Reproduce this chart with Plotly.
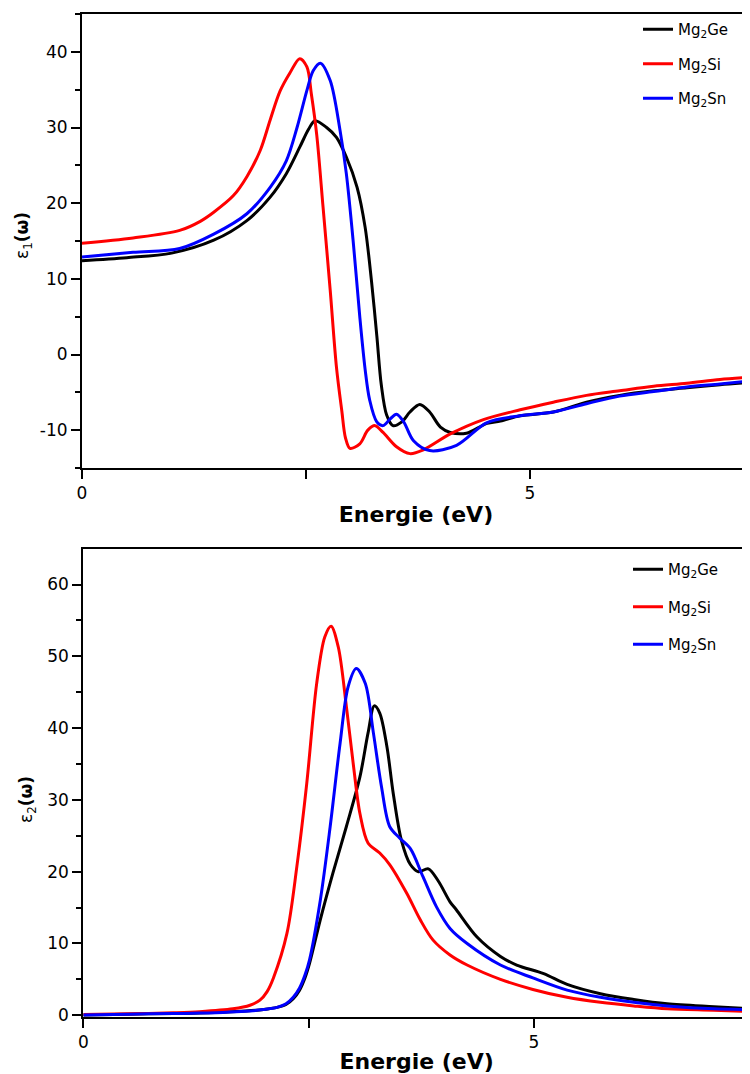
import plotly.graph_objects as go

# ---------------- data: epsilon_1 (top panel) ----------------
e1_ge_x = [0, 0.5, 1.0, 1.47, 1.84, 2.10, 2.28, 2.43, 2.53, 2.60, 2.73, 2.84, 2.95, 3.07, 3.16, 3.23,
           3.29, 3.34, 3.40, 3.47, 3.57, 3.66, 3.77, 3.88, 4.0, 4.11, 4.29, 4.52, 4.67, 4.89, 5.26,
           5.63, 6.0, 6.38, 6.75, 7.12, 7.46]
e1_ge_y = [12.4, 12.8, 13.4, 15.1, 17.7, 20.8, 23.9, 27.4, 29.8, 30.9, 30.0, 28.7, 26.1, 22.1, 16.8, 9.8,
           2.5, -4.0, -8.0, -9.4, -8.9, -7.6, -6.6, -7.6, -9.6, -10.3, -10.4, -9.1, -8.8, -8.1, -7.6,
           -6.3, -5.4, -4.8, -4.4, -4.0, -3.7]

e1_si_x = [0, 0.57, 1.09, 1.32, 1.47, 1.69, 1.84, 1.99, 2.10, 2.21, 2.32, 2.43, 2.51, 2.56, 2.62, 2.69,
           2.77, 2.84, 2.90, 2.94, 2.99, 3.10, 3.19, 3.27, 3.36, 3.51, 3.66, 3.81, 4.11, 4.48, 4.89,
           5.26, 5.63, 6.0, 6.38, 6.75, 7.12, 7.46]
e1_si_y = [14.7, 15.4, 16.4, 17.6, 18.8, 21.0, 23.5, 27.0, 31.0, 34.8, 37.2, 39.1, 38.0, 34.4, 29.0, 19.5,
           8.5, -1.7, -7.5, -11.0, -12.4, -11.8, -10.0, -9.4, -10.3, -12.2, -13.1, -12.6, -10.5, -8.6, -7.3,
           -6.3, -5.4, -4.8, -4.2, -3.8, -3.3, -3.0]

e1_sn_x = [0, 0.57, 1.09, 1.47, 1.84, 2.10, 2.28, 2.40, 2.51, 2.58, 2.66, 2.77, 2.88, 2.95, 3.03, 3.10,
           3.16, 3.21, 3.29, 3.36, 3.44, 3.51, 3.59, 3.70, 3.88, 4.18, 4.52, 4.89, 5.26, 5.63, 6.0,
           6.38, 6.75, 7.12, 7.46]
e1_sn_y = [12.9, 13.5, 14.0, 15.9, 18.6, 22.1, 25.6, 30.0, 34.9, 37.5, 38.5, 36.2, 29.6, 23.9, 14.5, 5.0,
           -2.0, -6.0, -8.9, -9.4, -8.5, -7.9, -8.9, -11.4, -12.7, -12.0, -9.0, -8.1, -7.6, -6.5, -5.5,
           -4.9, -4.3, -3.9, -3.5]

# ---------------- data: epsilon_2 (bottom panel) ----------------
e2_ge_x = [0, 0.5, 1.0, 1.29, 1.8, 2.0, 2.15, 2.25, 2.33, 2.40, 2.46, 2.51, 2.63, 2.77, 2.92, 3.07,
           3.16, 3.23, 3.29, 3.37, 3.44, 3.53, 3.63, 3.72, 3.83, 3.94, 4.07, 4.14, 4.37, 4.63, 4.81,
           5.11, 5.37, 5.74, 6.11, 6.48, 7.0, 7.45]
e2_ge_y = [0.05, 0.15, 0.25, 0.3, 0.6, 0.8, 1.1, 1.5, 2.3, 3.5, 5.2, 7.2, 13.3, 19.8, 26.3, 33.2,
           39.3, 43.1, 42.1, 37.4, 30.9, 24.4, 21.0, 20.0, 20.4, 18.7, 15.8, 14.7, 10.9, 8.2, 7.0,
           5.8, 4.3, 3.0, 2.2, 1.6, 1.2, 0.9]

e2_si_x = [0, 0.5, 1.0, 1.29, 1.66, 1.85, 1.96, 2.04, 2.11, 2.26, 2.37, 2.48, 2.59, 2.68, 2.75, 2.83,
           2.92, 3.0, 3.07, 3.16, 3.29, 3.40, 3.59, 3.74, 3.88, 4.07, 4.26, 4.63, 4.99, 5.37, 5.74,
           6.11, 6.48, 7.0, 7.45]
e2_si_y = [0.1, 0.2, 0.35, 0.5, 0.9, 1.4, 2.1, 3.3, 5.2, 11.4, 20.7, 32.3, 46.2, 52.7, 54.2, 51.3,
           43.0, 34.6, 28.1, 24.0, 22.6, 21.0, 17.0, 13.3, 10.5, 8.4, 7.0, 5.0, 3.6, 2.5, 1.8,
           1.3, 0.9, 0.7, 0.5]

e2_sn_x = [0, 0.5, 1.0, 1.29, 1.85, 2.0, 2.15, 2.25, 2.33, 2.40, 2.46, 2.51, 2.63, 2.74, 2.85, 2.94,
           3.03, 3.13, 3.22, 3.31, 3.40, 3.51, 3.63, 3.77, 3.92, 4.07, 4.26, 4.63, 4.99, 5.37, 5.74,
           6.11, 6.48, 7.0, 7.45]
e2_sn_y = [0.05, 0.15, 0.25, 0.3, 0.6, 0.8, 1.1, 1.6, 2.5, 3.8, 5.6, 7.7, 16.0, 26.3, 37.9, 45.8,
           48.3, 46.2, 39.3, 31.8, 26.3, 24.7, 23.2, 19.3, 15.1, 12.1, 10.0, 7.0, 5.2, 3.5, 2.5,
           1.8, 1.3, 0.9, 0.8]

names = ["Mg<sub>2</sub>Ge", "Mg<sub>2</sub>Si", "Mg<sub>2</sub>Sn"]
colors = ["#000000", "#ff0000", "#0000ff"]
x_tickvals = [0, 5]
x_ticktext = ["0", "5"]
y1_tickvals = [-10, 0, 10, 20, 30, 40]
y1_ticktext = ["-10", "0", "10", "20", "30", "40"]
y2_tickvals = [0, 10, 20, 30, 40, 50, 60]
y2_ticktext = ["0", "10", "20", "30", "40", "50", "60"]
xlabel = "Energie (eV)"

FONT = "DejaVu Sans, Arial, sans-serif"

fig = go.Figure()
top = [(e1_ge_x, e1_ge_y), (e1_si_x, e1_si_y), (e1_sn_x, e1_sn_y)]
bot = [(e2_ge_x, e2_ge_y), (e2_si_x, e2_si_y), (e2_sn_x, e2_sn_y)]
for i, (xs, ys) in enumerate(top):
    fig.add_trace(go.Scatter(x=xs, y=ys, mode="lines", name=names[i], legendgroup="t%d" % i,
                             line=dict(color=colors[i], width=3, shape="spline", smoothing=0.9),
                             xaxis="x", yaxis="y", legend="legend"))
for i, (xs, ys) in enumerate(bot):
    fig.add_trace(go.Scatter(x=xs, y=ys, mode="lines", name=names[i], legendgroup="b%d" % i,
                             line=dict(color=colors[i], width=3, shape="spline", smoothing=0.9),
                             xaxis="x2", yaxis="y2", legend="legend2"))

axis_common = dict(showline=True, linewidth=2, linecolor="black", ticks="outside", ticklen=9,
                   tickwidth=2, tickcolor="black", showgrid=False, zeroline=False,
                   tickfont=dict(family=FONT, size=17, color="black"))

xcommon = dict(axis_common, tickmode="array", tickvals=x_tickvals, ticktext=x_ticktext, mirror=True,
               minor=dict(ticks="outside", ticklen=9, tickwidth=2, tickcolor="black", dtick=2.5,
                          tick0=0, showgrid=False),
               title=dict(text="<b>%s</b>" % xlabel, font=dict(family=FONT, size=22, color="black"),
                          standoff=4))
ycommon = dict(axis_common, tickmode="array",
               minor=dict(ticks="outside", ticklen=5, tickwidth=1.5, tickcolor="black", dtick=5,
                          tick0=0, showgrid=False))

# page has an 8px body margin: figure coordinates = page coordinates - 8
top_dom = [(1017 - 468) / 1003, 1.0]
bot_dom = [0.0, (1017 - 549) / 1003]

fig.update_layout(
    width=742, height=1066,
    margin=dict(l=74, r=0, t=6, b=57),
    paper_bgcolor="white", plot_bgcolor="white",
    font=dict(family=FONT, color="black"),
    xaxis=dict(xcommon, domain=[0, 1], range=[0, 7.455], anchor="y"),
    yaxis=dict(ycommon, tickvals=y1_tickvals, ticktext=y1_ticktext, domain=top_dom,
               range=[-15, 45], anchor="x"),
    xaxis2=dict(xcommon, domain=[0.002, 1], range=[0, 7.40], anchor="y2"),
    yaxis2=dict(ycommon, tickvals=y2_tickvals, ticktext=y2_ticktext, domain=bot_dom,
                range=[-0.24, 64.95], anchor="x2"),
    legend=dict(x=(638 - 82) / 668, xanchor="left", y=(1017 - 13) / 1003, yanchor="top",
                bgcolor="rgba(0,0,0,0)", font=dict(family=FONT, size=15, color="black"),
                tracegroupgap=12, traceorder="grouped"),
    legend2=dict(x=(628 - 82) / 668, xanchor="left", y=(1017 - 553) / 1003, yanchor="top",
                 bgcolor="rgba(0,0,0,0)", font=dict(family=FONT, size=15, color="black"),
                 tracegroupgap=15, traceorder="grouped"),
    annotations=[
        dict(text="ε<sub>1</sub><b>(ω)</b>", xref="paper", yref="paper", x=(24 - 82) / 668,
             y=(1017 - 236) / 1003, xanchor="center", yanchor="middle", textangle=-90,
             showarrow=False, font=dict(family=FONT, size=17, color="black")),
        dict(text="ε<sub>2</sub><b>(ω)</b>", xref="paper", yref="paper", x=(27 - 82) / 668,
             y=(1017 - 800) / 1003, xanchor="center", yanchor="middle", textangle=-90,
             showarrow=False, font=dict(family=FONT, size=17, color="black")),
    ],
)

fig.write_html("out.html")
